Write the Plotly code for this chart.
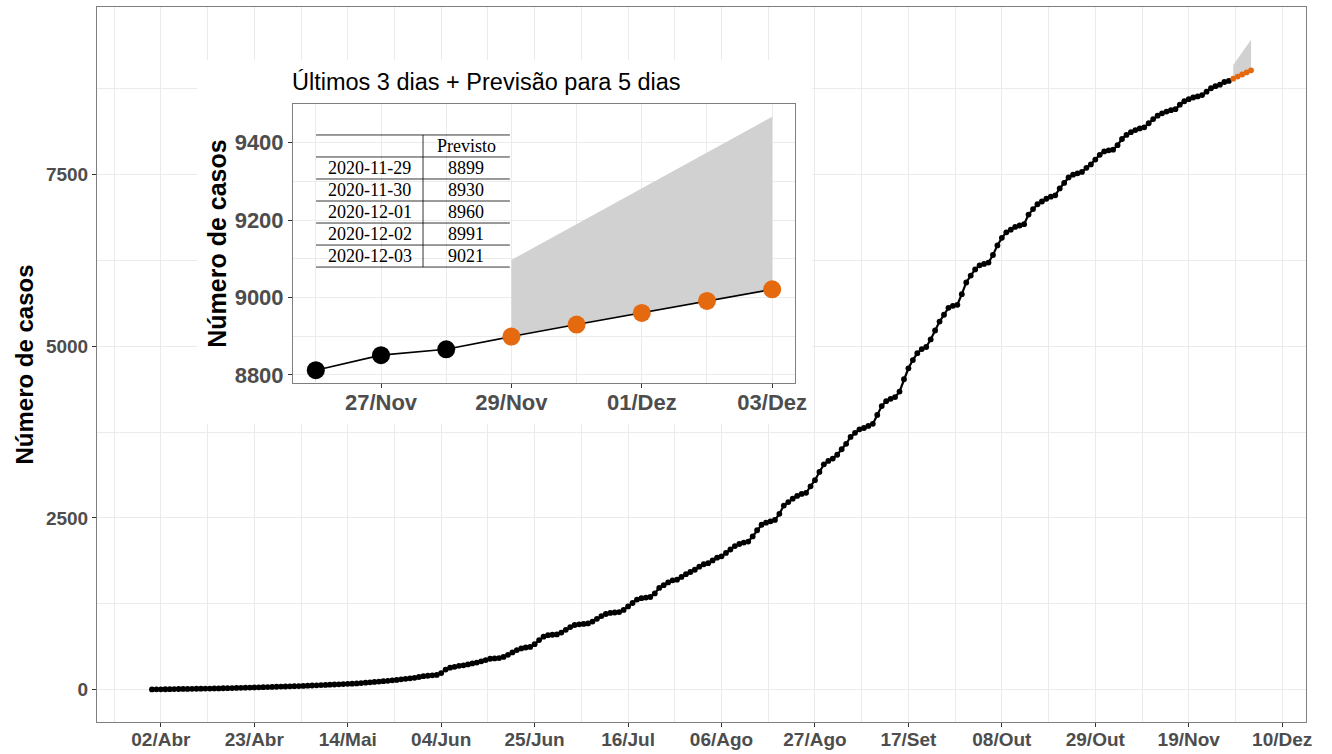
import plotly.graph_objects as go
from datetime import date, datetime, timedelta

# ---------------- data ----------------
start_date = date(2020, 3, 31)
observed = [
    1, 2, 3, 4, 5, 6, 7, 8, 9, 10,
    11, 12, 13, 14, 15, 16, 18, 19, 21, 23,
    25, 27, 28, 30, 32, 34, 36, 38, 40, 42,
    44, 46, 48, 50, 52, 55, 58, 61, 64, 67,
    70, 73, 76, 79, 82, 85, 89, 94, 99, 104,
    110, 116, 121, 127, 133, 140, 148, 156, 163, 170,
    182, 194, 200, 206, 212, 240, 290, 318, 330, 345,
    352, 365, 380, 392, 410, 428, 448, 453, 458, 475,
    505, 540, 575, 598, 612, 620, 660, 720, 770, 792,
    798, 803, 830, 870, 910, 940, 950, 956, 962, 990,
    1030, 1070, 1100, 1115, 1122, 1128, 1160, 1210, 1260, 1310,
    1330, 1340, 1348, 1400, 1480, 1520, 1560, 1590, 1600, 1640,
    1680, 1712, 1745, 1790, 1825, 1840, 1880, 1920, 1940, 1990,
    2040, 2090, 2120, 2140, 2155, 2230, 2320, 2400, 2430, 2450,
    2470, 2560, 2680, 2730, 2780, 2820, 2850, 2865, 2960, 3050,
    3170, 3280, 3330, 3365, 3420, 3500, 3580, 3680, 3740, 3790,
    3810, 3840, 3870, 4000, 4130, 4200, 4235, 4260, 4340, 4520,
    4680, 4800, 4900, 4960, 4990, 5100, 5230, 5360, 5460, 5560,
    5590, 5605, 5760, 5930, 6030, 6120, 6180, 6200, 6220, 6330,
    6470, 6580, 6660, 6700, 6740, 6760, 6780, 6920, 7000, 7070,
    7110, 7150, 7180, 7200, 7300, 7380, 7460, 7500, 7520, 7540,
    7600, 7650, 7720, 7790, 7840, 7855, 7865, 7930, 8020, 8080,
    8120, 8150, 8175, 8190, 8250, 8310, 8360, 8395, 8420, 8440,
    8455, 8520, 8570, 8600, 8625, 8640, 8660, 8710, 8760, 8790,
    8812, 8851, 8866,
]
obs_dates = [start_date + timedelta(days=i) for i in range(len(observed))]

forecast_dates = ["2020-11-29", "2020-11-30", "2020-12-01", "2020-12-02", "2020-12-03"]
forecast = [8899, 8930, 8960, 8991, 9021]
upper = [9097, 9190, 9282, 9374, 9467]

main_tickvals = ["2020-04-02", "2020-04-23", "2020-05-14", "2020-06-04", "2020-06-25",
                 "2020-07-16", "2020-08-06", "2020-08-27", "2020-09-17", "2020-10-08",
                 "2020-10-29", "2020-11-19", "2020-12-10"]
main_ticktext = ["02/Abr", "23/Abr", "14/Mai", "04/Jun", "25/Jun", "16/Jul", "06/Ago",
                 "27/Ago", "17/Set", "08/Out", "29/Out", "19/Nov", "10/Dez"]
main_yticks = [0, 2500, 5000, 7500]

inset_tickvals = ["2020-11-27", "2020-11-29", "2020-12-01", "2020-12-03"]
inset_ticktext = ["27/Nov", "29/Nov", "01/Dez", "03/Dez"]
inset_yticks = [8800, 9000, 9200, 9400]

inset_title = "Últimos 3 dias + Previsão para 5 dias"
y_title = "Número de casos"
table_header = "Previsto"

# ---------------- styles ----------------
ORANGE = "#E4690F"
RIBBON = "#D1D1D1"
GRID = "#EBEBEB"
BORDER = "#7F7F7F"
TICKC = "#4D4D4D"
FONT = "Liberation Sans"
SERIF = "Liberation Serif"

last_dates = [d.isoformat() for d in obs_dates[-3:]]
last_vals = observed[-3:]

fig = go.Figure()

# ---- main panel ----
fig.add_trace(go.Scatter(
    x=forecast_dates + forecast_dates[::-1], y=upper + forecast[::-1],
    fill="toself", fillcolor=RIBBON, line=dict(width=0), mode="lines",
    hoverinfo="skip", showlegend=False, xaxis="x", yaxis="y"))
fig.add_trace(go.Scatter(
    x=obs_dates, y=observed, mode="lines+markers",
    line=dict(color="black", width=2.2), marker=dict(color="black", size=5.8),
    showlegend=False, xaxis="x", yaxis="y"))
fig.add_trace(go.Scatter(
    x=forecast_dates, y=forecast, mode="lines+markers",
    line=dict(color=ORANGE, width=2.2), marker=dict(color=ORANGE, size=5.8),
    showlegend=False, xaxis="x", yaxis="y"))

# ---- background holder for inset (x2/y2) ----
fig.add_trace(go.Scatter(x=[], y=[], xaxis="x2", yaxis="y2", showlegend=False))

# ---- inset panel (x3/y3) ----
fig.add_trace(go.Scatter(
    x=forecast_dates + forecast_dates[::-1], y=upper + forecast[::-1],
    fill="toself", fillcolor=RIBBON, line=dict(width=0), mode="lines",
    hoverinfo="skip", showlegend=False, xaxis="x3", yaxis="y3"))
fig.add_trace(go.Scatter(
    x=last_dates + forecast_dates, y=last_vals + forecast, mode="lines",
    line=dict(color="black", width=1.6), showlegend=False, xaxis="x3", yaxis="y3"))
fig.add_trace(go.Scatter(
    x=last_dates, y=last_vals, mode="markers",
    marker=dict(color="black", size=18), showlegend=False, xaxis="x3", yaxis="y3"))
fig.add_trace(go.Scatter(
    x=forecast_dates, y=forecast, mode="markers",
    marker=dict(color=ORANGE, size=18), showlegend=False, xaxis="x3", yaxis="y3"))

day_ms = 86400000
x_start = datetime(2020, 3, 31) - timedelta(days=12.35)
x_end = datetime(2020, 12, 3) + timedelta(days=12.35)
ix_start = datetime(2020, 11, 26) - timedelta(days=0.35)
ix_end = datetime(2020, 12, 3) + timedelta(days=0.35)

# domains (paper) derived from pixel layout
W, H = 1332, 754
ml, mr, mt, mb = 97, 26, 7, 32
pw, ph = W - ml - mr, H - mt - mb


def px_x(p):
    return (p - ml) / pw


def px_y(p):
    return (H - mb - p) / ph


inset_x = [px_x(293), px_x(795)]
inset_y = [px_y(383), px_y(104)]
bg_x = [px_x(197), px_x(812)]
bg_y = [px_y(424), px_y(60)]

tickfont_main = dict(family=FONT, size=19, color=TICKC, weight="bold")
tickfont_inset = dict(family=FONT, size=22, color=TICKC, weight="bold")

fig.update_layout(
    width=W, height=H,
    margin=dict(l=ml, r=mr, t=mt, b=mb, autoexpand=False),
    paper_bgcolor="white", plot_bgcolor="white",
    showlegend=False,
    xaxis=dict(
        type="date", domain=[0, 1], anchor="y", range=[x_start, x_end], automargin=False,
        tickmode="array", tickvals=main_tickvals, ticktext=main_ticktext,
        ticks="outside", ticklen=4, tickcolor="#333333", tickwidth=1,
        tickfont=tickfont_main, ticklabelstandoff=-4,
        showgrid=True, gridcolor=GRID, gridwidth=1,
        minor=dict(tickmode="linear", tick0="2020-04-02", dtick=10.5 * day_ms,
                   showgrid=True, gridcolor=GRID, gridwidth=0.6, ticks=""),
        showline=True, mirror=True, linecolor=BORDER, linewidth=1, zeroline=False,
    ),
    yaxis=dict(
        domain=[0, 1], anchor="x", range=[-473.5, 9943.5], automargin=False,
        tickmode="array", tickvals=main_yticks,
        ticks="outside", ticklen=4, tickcolor="#333333", tickwidth=1,
        tickfont=tickfont_main,
        showgrid=True, gridcolor=GRID, gridwidth=1,
        minor=dict(tickmode="linear", tick0=0, dtick=1250,
                   showgrid=True, gridcolor=GRID, gridwidth=0.6, ticks=""),
        showline=True, mirror=True, linecolor=BORDER, linewidth=1, zeroline=False,
        title=dict(text=y_title, font=dict(family=FONT, size=24, color="black", weight="bold"),
                   standoff=5),
    ),
    xaxis2=dict(domain=bg_x, anchor="y2", range=[0, 1], visible=False, fixedrange=True),
    yaxis2=dict(domain=bg_y, anchor="x2", range=[0, 1], visible=False, fixedrange=True),
    xaxis3=dict(
        type="date", domain=inset_x, anchor="y3", range=[ix_start, ix_end], automargin=False,
        tickmode="array", tickvals=inset_tickvals, ticktext=inset_ticktext,
        ticks="outside", ticklen=4, tickcolor="#333333", tickwidth=1,
        tickfont=tickfont_inset, ticklabelstandoff=-4,
        showgrid=True, gridcolor=GRID, gridwidth=1,
        minor=dict(tickmode="linear", tick0="2020-11-27", dtick=day_ms,
                   showgrid=True, gridcolor=GRID, gridwidth=0.6, ticks=""),
        showline=True, mirror=True, linecolor=BORDER, linewidth=1, zeroline=False,
    ),
    yaxis3=dict(
        domain=inset_y, anchor="x3", range=[8779, 9500], automargin=False,
        tickmode="array", tickvals=inset_yticks,
        ticks="outside", ticklen=4, tickcolor="#333333", tickwidth=1,
        tickfont=tickfont_inset,
        showgrid=True, gridcolor=GRID, gridwidth=1,
        minor=dict(tickmode="linear", tick0=8800, dtick=100,
                   showgrid=True, gridcolor=GRID, gridwidth=0.6, ticks=""),
        showline=True, mirror=True, linecolor=BORDER, linewidth=1, zeroline=False,
        title=dict(text=y_title, font=dict(family=FONT, size=25, color="black", weight="bold"),
                   standoff=0),
    ),
)

shapes = [dict(type="rect", xref="x2", yref="y2", x0=0, x1=1, y0=0, y1=1,
               fillcolor="white", line=dict(width=0), layer="below")]

# table inside inset (positions in inset-domain units)
tx0, tdiv, tx1 = 0.046, 0.259, 0.432
ttop = 0.889
rowh = 0.0789
nrows = len(forecast) + 1
for k in range(nrows + 1):
    yy = ttop - k * rowh
    shapes.append(dict(type="line", xref="x3 domain", yref="y3 domain",
                       x0=tx0, x1=tx1, y0=yy, y1=yy, line=dict(color="black", width=0.8),
                       layer="above"))
shapes.append(dict(type="line", xref="x3 domain", yref="y3 domain",
                   x0=tdiv, x1=tdiv, y0=ttop, y1=ttop - nrows * rowh,
                   line=dict(color="black", width=0.8), layer="above"))

annotations = [dict(text=inset_title, xref="x3 domain", yref="y3 domain", x=-0.005, y=1.025,
                    xanchor="left", yanchor="bottom", showarrow=False,
                    font=dict(family=FONT, size=23.5, color="black"))]
tfont = dict(family=SERIF, size=18, color="black")
annotations.append(dict(text=table_header, xref="x3 domain", yref="y3 domain",
                        x=(tdiv + tx1) / 2, y=ttop - 0.5 * rowh, showarrow=False,
                        xanchor="center", yanchor="middle", font=tfont))
for k, (d, v) in enumerate(zip(forecast_dates, forecast)):
    yy = ttop - (k + 1.5) * rowh
    annotations.append(dict(text=d, xref="x3 domain", yref="y3 domain",
                            x=(tx0 + tdiv) / 2, y=yy, showarrow=False,
                            xanchor="center", yanchor="middle", font=tfont))
    annotations.append(dict(text=str(v), xref="x3 domain", yref="y3 domain",
                            x=(tdiv + tx1) / 2, y=yy, showarrow=False,
                            xanchor="center", yanchor="middle", font=tfont))

fig.update_layout(shapes=shapes, annotations=annotations)
fig.write_html("out.html", config={"displayModeBar": False},
               post_script="document.body.style.margin='0px';document.body.style.overflow='hidden';")
